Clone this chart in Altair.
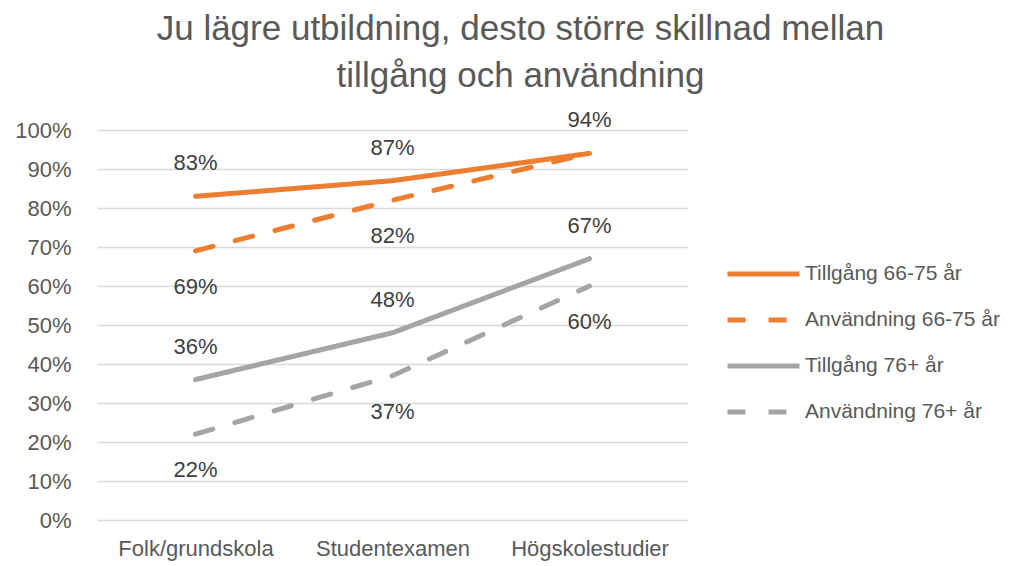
import altair as alt
import pandas as pd

categories = ["Folk/grundskola", "Studentexamen", "Högskolestudier"]
series_names = ["Tillgång 66-75 år", "Användning 66-75 år", "Tillgång 76+ år", "Användning 76+ år"]
tillgang_66 = [0.83, 0.87, 0.94]
anvandning_66 = [0.69, 0.82, 0.94]
tillgang_76 = [0.36, 0.48, 0.67]
anvandning_76 = [0.22, 0.37, 0.60]
series_colors = ["#ED7D31", "#ED7D31", "#A5A5A5", "#A5A5A5"]
series_dashes = [[1, 0], [18, 23], [1, 0], [18, 23]]
label_above = [True, False, True, False]
hidden_labels = [("Användning 66-75 år", "Högskolestudier")]
title_lines = ["Ju lägre utbildning, desto större skillnad mellan", "tillgång och användning"]
y_ticks = [round(i / 10, 1) for i in range(11)]

rows = []
for name, vals, above in zip(series_names, [tillgang_66, anvandning_66, tillgang_76, anvandning_76], label_above):
    for cat, v in zip(categories, vals):
        rows.append({"kategori": cat, "serie": name, "värde": v, "ovan": above,
                     "visa": (name, cat) not in hidden_labels})
df = pd.DataFrame(rows)

FONT = "Liberation Sans"

x_enc = alt.X("kategori:N", sort=categories,
              scale=alt.Scale(type="point", padding=0.5),
              axis=alt.Axis(title=None, labelAngle=0, ticks=False, domain=False,
                            labelFontSize=22, labelColor="#595959", labelFont=FONT,
                            labelPadding=18, grid=False))
y_enc = alt.Y("värde:Q", scale=alt.Scale(domain=[0, 1]),
              axis=alt.Axis(title=None, values=y_ticks, tickCount=20, format=".0%", ticks=False,
                            domain=False, labelOverlap=False,
                            labelFontSize=22, labelColor="#595959", labelFont=FONT,
                            labelPadding=26, gridColor="#D9D9D9", gridWidth=1.3))

legend_opts = dict(title=None, orient="none", legendX=628, legendY=124,
                   symbolType="stroke", symbolSize=5184, symbolStrokeWidth=5,
                   clipHeight=40, rowPadding=6, labelOffset=3, labelLimit=300,
                   labelFontSize=21, labelColor="#595959", labelFont=FONT)

base = alt.Chart(df)

lines = base.mark_line(strokeWidth=5, strokeCap="round").encode(
    x=x_enc,
    y=y_enc,
    color=alt.Color("serie:N", sort=series_names,
                    scale=alt.Scale(domain=series_names, range=series_colors),
                    legend=alt.Legend(**legend_opts)),
    strokeDash=alt.StrokeDash("serie:N", sort=series_names,
                              scale=alt.Scale(domain=series_names, range=series_dashes),
                              legend=alt.Legend(**legend_opts)),
)

text_common = dict(fontSize=22, color="#404040", font=FONT, baseline="middle", align="center")

labels_above = base.transform_filter("datum.ovan && datum.visa").mark_text(dy=-33, **text_common).encode(
    x=x_enc,
    y=y_enc,
    text=alt.Text("värde:Q", format=".0%"),
)
labels_below = base.transform_filter("!datum.ovan && datum.visa").mark_text(dy=36, **text_common).encode(
    x=x_enc,
    y=y_enc,
    text=alt.Text("värde:Q", format=".0%"),
)

chart = alt.layer(lines, labels_above, labels_below).properties(
    width=591,
    height=390,
    title=alt.TitleParams(text=title_lines, fontSize=35, color="#595959", font=FONT,
                          fontWeight="normal", anchor="middle", dx=128, lineHeight=47, offset=15),
    padding={"left": 89, "top": 122, "right": 320, "bottom": 46},
    autosize=alt.AutoSizeParams(type="none"),
).configure(background="white").configure_view(strokeWidth=0, stroke=None)

chart.save("out.html", embed_options={"renderer": "svg", "actions": False})
